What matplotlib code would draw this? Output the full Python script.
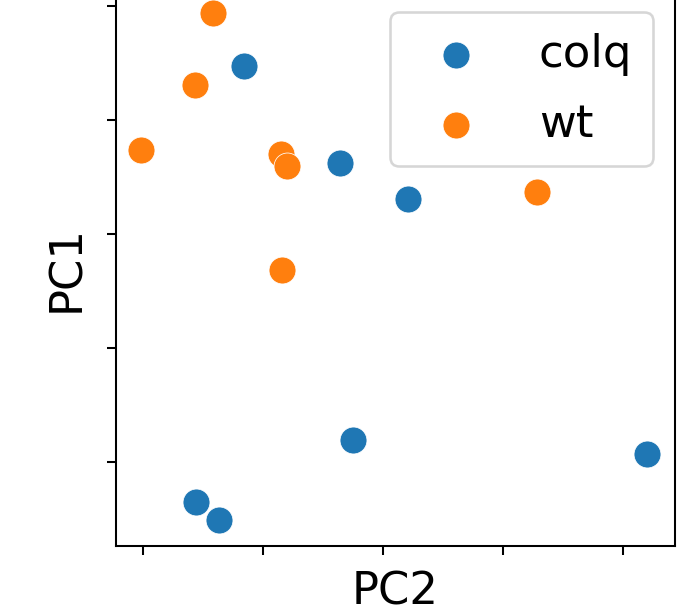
import matplotlib
matplotlib.use("Agg")
import matplotlib.pyplot as plt

groups = ["colq", "wt"]
colors = ["#1f77b4", "#ff7f0e"]

colq_pc2 = [0.84, 1.64, 2.21, 1.75, 4.20, 0.44, 0.63]
colq_pc1 = [3.47, 2.62, 2.31, 0.19, 0.07, -0.35, -0.51]

wt_pc2 = [0.58, 0.43, -0.02, 1.15, 1.20, 3.28, 1.16]
wt_pc1 = [3.94, 3.31, 2.74, 2.70, 2.60, 2.37, 1.68]

xticks = [0, 1, 2, 3, 4]
yticks = [0, 1, 2, 3, 4]

DPI = 185
fig = plt.figure(figsize=(688 / DPI, 615 / DPI), dpi=DPI)
ax = fig.add_axes([116 / 688, 69 / 615, (675 - 116) / 688, 556 / 615])

for name, xs, ys, c in [("colq", colq_pc2, colq_pc1, colors[0]),
                        ("wt", wt_pc2, wt_pc1, colors[1])]:
    ax.scatter(xs, ys, s=110, color=c, edgecolor="white", linewidth=0.3, label=name)

ax.set_xlim(-0.225, 4.433)
ax.set_ylim(-0.737, 4.14)
ax.set_xticks(xticks)
ax.set_yticks(yticks)
ax.set_xticklabels([])
ax.set_yticklabels([])
ax.set_xlabel("PC2", fontsize=17.5, labelpad=2.5)
ax.set_ylabel("PC1", fontsize=17.5)
ax.legend(loc="upper right", fontsize=17.5, labelspacing=0.6, borderpad=0.45,
          borderaxespad=0.5, handletextpad=0.85)

fig.savefig("out.png", dpi=DPI)
